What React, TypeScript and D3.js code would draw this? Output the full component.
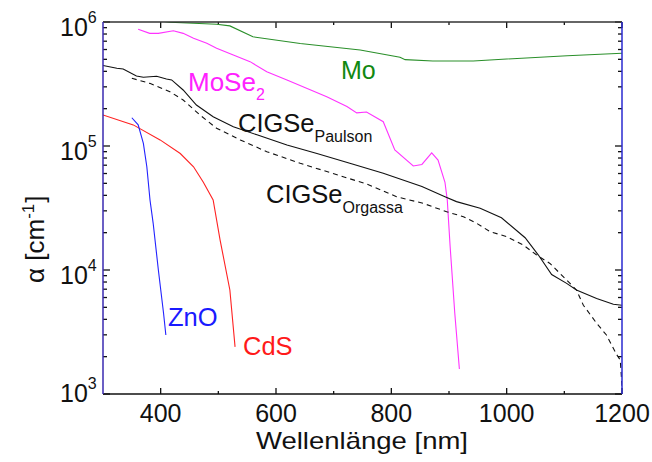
import React from "react";
import * as d3 from "d3";

const moLambda = [360, 416, 497, 520, 560, 642, 746, 815, 824, 872, 942, 1000, 1105, 1200];
const moAlpha = [1.08e6, 9.95e5, 9.6e5, 9.3e5, 7.6e5, 6.7e5, 5.95e5, 5.2e5, 4.97e5, 4.85e5, 4.85e5, 5.03e5, 5.35e5, 5.6e5];

const mose2Lambda = [361, 381, 396, 422, 439, 457, 480, 497, 526, 555, 584, 619, 653, 688, 723, 740, 757, 786, 806, 838, 853, 870, 881, 893, 897, 902, 910, 918];
const mose2Alpha = [8.73e5, 8.1e5, 8.1e5, 8.5e5, 8.1e5, 7.4e5, 6.73e5, 6.14e5, 5.42e5, 4.79e5, 3.97e5, 3.41e5, 2.92e5, 2.5e5, 2.08e5, 1.85e5, 1.88e5, 1.57e5, 9.3e4, 6.9e4, 7.1e4, 8.8e4, 7.7e4, 5.1e4, 3.67e4, 1.54e4, 4.5e3, 1.59e3];

const paulsonLambda = [300, 324, 335, 358, 370, 393, 410, 419, 439, 462, 491, 526, 567, 619, 671, 728, 786, 853, 893, 913, 954, 991, 1032, 1055, 1078, 1104, 1121, 1156, 1185, 1200];
const paulsonAlpha = [4.46e5, 4.24e5, 4.18e5, 3.67e5, 3.58e5, 3.65e5, 3.47e5, 3.41e5, 2.83e5, 2.14e5, 1.72e5, 1.43e5, 1.23e5, 1.02e5, 8.7e4, 7.26e4, 6.03e4, 4.71e4, 3.9e4, 3.56e4, 3.15e4, 2.64e4, 1.82e4, 1.32e4, 9.2e3, 7.8e3, 6.9e3, 5.9e3, 5.3e3, 5.2e3];

const orgassaLambda = [350, 381, 416, 439, 468, 497, 538, 584, 642, 699, 757, 809, 855, 896, 925, 948, 971, 1000, 1029, 1052, 1075, 1104, 1121, 1133, 1156, 1173, 1191, 1197, 1200];
const orgassaAlpha = [3.52e5, 3.2e5, 2.74e5, 2.35e5, 1.78e5, 1.39e5, 1.12e5, 9.0e4, 7.25e4, 6.0e4, 4.94e4, 3.9e4, 3.45e4, 2.95e4, 2.69e4, 2.38e4, 2.04e4, 1.86e4, 1.59e4, 1.32e4, 1.13e4, 8.3e3, 6.9e3, 5.2e3, 3.72e3, 2.99e3, 2.07e3, 1.88e3, 1.16e3];

const znoLambda = [350, 361, 370, 376, 381.5, 387, 396, 405, 409];
const znoAlpha = [1.69e5, 1.48e5, 1.05e5, 6.8e4, 3.67e4, 2.38e4, 1.0e4, 4.48e3, 2.99e3];

const cdsLambda = [300, 352.5, 399, 434, 457, 474, 491, 503, 520, 529];
const cdsAlpha = [1.78e5, 1.48e5, 1.12e5, 8.7e4, 6.8e4, 5.1e4, 3.67e4, 1.75e4, 6.9e3, 2.4e3];

const xTicks = [400, 600, 800, 1000, 1200];
const xMinorTicks = [500, 700, 900, 1100];
const yTickExponents = [3, 4, 5, 6];

const W = 652;
const H = 462;
const M = { left: 103, right: 622, top: 22, bottom: 394 };
const FONT = "'Liberation Sans', Arial, sans-serif";

export default function App() {
  const x = d3.scaleLinear().domain([300, 1200]).range([M.left, M.right]);
  const y = d3.scaleLog().domain([1e3, 1e6]).range([M.bottom, M.top]);

  const mk = (lx: number[], ay: number[]) =>
    d3.line<number>().x((_, i) => x(lx[i])).y((_, i) => y(ay[i]))(lx) || "";

  const series = [
    { lx: moLambda, ay: moAlpha, color: "#2a8f2a", dash: undefined },
    { lx: mose2Lambda, ay: mose2Alpha, color: "#ff33ff", dash: undefined },
    { lx: orgassaLambda, ay: orgassaAlpha, color: "#111111", dash: "5,4" },
    { lx: paulsonLambda, ay: paulsonAlpha, color: "#111111", dash: undefined },
    { lx: cdsLambda, ay: cdsAlpha, color: "#ff2222", dash: undefined },
    { lx: znoLambda, ay: znoAlpha, color: "#2222ff", dash: undefined },
  ];

  const yMinor: number[] = [];
  for (let e = 3; e < 6; e++) for (let k = 2; k <= 9; k++) yMinor.push(k * Math.pow(10, e));

  return (
    <svg width={W} height={H} style={{ position: "absolute", left: 0, top: 0, background: "#fff" }} fontFamily={FONT}>
      <defs>
        <clipPath id="plotclip">
          <rect x={M.left} y={M.top} width={M.right - M.left} height={M.bottom - M.top} />
        </clipPath>
      </defs>
      <rect x={0} y={0} width={W} height={H} fill="#fff" />
      {/* ticks */}
      {xTicks.map((t) => (
        <g key={"xt" + t} stroke="#111" strokeWidth={1.3}>
          <line x1={x(t)} x2={x(t)} y1={M.bottom} y2={M.bottom - 6} />
          <line x1={x(t)} x2={x(t)} y1={M.top} y2={M.top + 6} />
        </g>
      ))}
      {xMinorTicks.map((t) => (
        <g key={"xm" + t} stroke="#111" strokeWidth={1.3}>
          <line x1={x(t)} x2={x(t)} y1={M.bottom} y2={M.bottom - 3} />
          <line x1={x(t)} x2={x(t)} y1={M.top} y2={M.top + 3} />
        </g>
      ))}
      {yTickExponents.map((e) => (
        <g key={"yt" + e} stroke="#111" strokeWidth={1.3}>
          <line x1={M.left} x2={M.left + 7} y1={y(Math.pow(10, e))} y2={y(Math.pow(10, e))} />
          <line x1={M.right} x2={M.right - 7} y1={y(Math.pow(10, e))} y2={y(Math.pow(10, e))} />
        </g>
      ))}
      {yMinor.map((v, i) => (
        <g key={"ym" + i} stroke="#111" strokeWidth={1.3}>
          <line x1={M.left} x2={M.left + 4} y1={y(v)} y2={y(v)} />
          <line x1={M.right} x2={M.right - 4} y1={y(v)} y2={y(v)} />
        </g>
      ))}
      {/* curves */}
      <g clipPath="url(#plotclip)">
        {series.map((s, i) => (
          <path key={i} d={mk(s.lx, s.ay)} fill="none" stroke={s.color} strokeWidth={1.1} strokeDasharray={s.dash} />
        ))}
      </g>
      {/* frame */}
      <line x1={M.left} x2={M.right} y1={M.top} y2={M.top} stroke="#333" strokeWidth={1.5} />
      <line x1={M.left} x2={M.right} y1={M.bottom} y2={M.bottom} stroke="#111" strokeWidth={1.5} />
      <line x1={M.left} x2={M.left} y1={M.top} y2={M.bottom} stroke="#3a2ab0" strokeWidth={1.5} />
      <line x1={M.right} x2={M.right} y1={M.top} y2={M.bottom} stroke="#2a2ad0" strokeWidth={1.5} />
      {/* x tick labels */}
      {xTicks.map((t) => (
        <text key={"xl" + t} x={x(t)} y={M.bottom + 28} textAnchor="middle" fontSize={25} fill="#111">
          {t}
        </text>
      ))}
      {/* y tick labels */}
      {yTickExponents.map((e) => (
        <text key={"yl" + e} x={60} y={y(Math.pow(10, e)) + (e === 3 ? 8 : 14)} fontSize={25} fill="#111">
          10
          <tspan dy={-13} fontSize={16}>{e}</tspan>
        </text>
      ))}
      {/* axis titles */}
      <text x={362} y={449} textAnchor="middle" fontSize={24} fill="#111" textLength={212} lengthAdjust="spacingAndGlyphs">
        Wellenlänge [nm]
      </text>
      <g transform={`translate(44, 238) rotate(-90)`}>
        <text x={-45} y={0} fontSize={26} fill="#111">
          α [cm<tspan dy={-10} fontSize={17}>-1</tspan>
          <tspan dy={10} dx={1}>]</tspan>
        </text>
      </g>
      {/* series labels */}
      <text x={341} y={79} fontSize={25} fill="#118811">Mo</text>
      <text x={188} y={91} fontSize={26} fill="#ff22ff">
        MoSe<tspan dy={9} fontSize={16}>2</tspan>
      </text>
      <text x={238} y={132} fontSize={25.5} fill="#111">
        CIGSe<tspan dy={10} fontSize={16}>Paulson</tspan>
      </text>
      <text x={266} y={203} fontSize={25.5} fill="#111">
        CIGSe<tspan dy={10} fontSize={16}>Orgassa</tspan>
      </text>
      <text x={168} y={326} fontSize={25.5} fill="#1a1aff">ZnO</text>
      <text x={243} y={355} fontSize={25.5} fill="#ff1a1a">CdS</text>
    </svg>
  );
}
